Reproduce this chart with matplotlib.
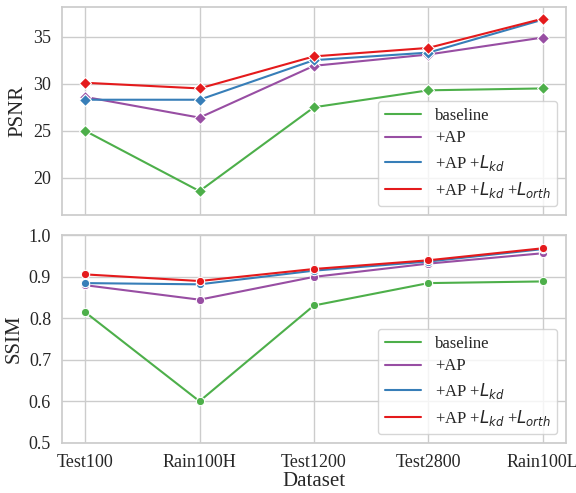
import numpy as np
import matplotlib.pyplot as plt
import seaborn as sns
from matplotlib.lines import Line2D

datasets = ['Test100', 'Rain100H', 'Test1200', 'Test2800', 'Rain100L']
labels = ['baseline', '+AP', r'+AP +$L_{kd}$', r'+AP +$L_{kd}$ +$L_{orth}$']
colors = ['#4daf4a', '#984ea3', '#377eb8', '#e41a1c']

psnr_baseline = [25.0, 18.6, 27.5, 29.3, 29.5]
psnr_ap = [28.6, 26.4, 31.9, 33.1, 34.9]
psnr_kd = [28.3, 28.3, 32.5, 33.3, 36.8]
psnr_orth = [30.1, 29.5, 32.9, 33.8, 36.9]

ssim_baseline = [0.815, 0.600, 0.831, 0.885, 0.889]
ssim_ap = [0.880, 0.845, 0.900, 0.932, 0.957]
ssim_kd = [0.885, 0.882, 0.915, 0.937, 0.967]
ssim_orth = [0.906, 0.890, 0.919, 0.940, 0.969]

sns.set_theme(style='whitegrid')
plt.rcParams['font.family'] = ['Liberation Serif', 'DejaVu Serif']
plt.rcParams['mathtext.fontset'] = 'dejavusans'

fig, (ax1, ax2) = plt.subplots(2, 1, figsize=(5.76, 4.93), dpi=100, sharex=True)
x = np.arange(len(datasets))

# PSNR
for vals, c in zip([psnr_baseline, psnr_ap, psnr_kd, psnr_orth], colors):
    ax1.plot(x, vals, color=c, lw=1.5, marker='D', ms=6, mec='white', mew=0.8)
ax1.set_ylim(16.1, 38.1)
ax1.set_yticks([20, 25, 30, 35])
ax1.set_ylabel('PSNR', fontsize=15)

# SSIM
for vals, c in zip([ssim_baseline, ssim_ap, ssim_kd, ssim_orth], colors):
    ax2.plot(x, vals, color=c, lw=1.5, marker='o', ms=6, mec='white', mew=0.8)
ax2.set_ylim(0.5, 1.0)
ax2.set_yticks([0.5, 0.6, 0.7, 0.8, 0.9, 1.0])
ax2.set_ylabel('SSIM', fontsize=15)
ax2.set_xlabel('Dataset', fontsize=15, labelpad=1)
ax2.set_xticks(x)
ax2.set_xticklabels(datasets)

handles = [Line2D([], [], color=c, lw=1.5) for c in colors]
for ax in (ax1, ax2):
    ax.tick_params(labelsize=13, pad=2)
    ax.legend(handles, labels, loc='lower right', fontsize=12, frameon=True,
              handlelength=2.2, labelspacing=0.4, borderaxespad=0.5)

plt.subplots_adjust(left=0.108, right=0.982, top=0.985, bottom=0.102, hspace=0.1)
plt.savefig('out.png')
